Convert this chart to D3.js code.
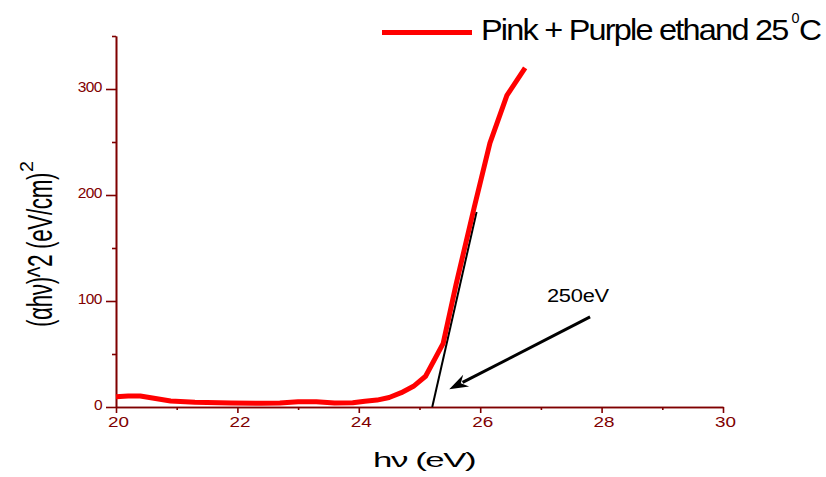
<!DOCTYPE html>
<html><head><meta charset="utf-8">
<script src="https://cdn.jsdelivr.net/npm/d3@7"></script>
<style>body{margin:0;background:#fff}svg{display:block}text{font-family:"Liberation Sans",Arial,sans-serif}</style>
</head><body>
<svg id="c" width="826" height="477"></svg>
<script>
const energy = [20.0,20.2,20.4,20.6,20.9,21.3,21.9,22.4,22.7,23.0,23.3,23.6,23.9,24.1,24.3,24.5,24.7,24.9,25.1,25.39,25.6,25.9,26.16,26.44,26.74];
const absorb = [9.7,10.3,10.3,8.5,5.7,4.5,3.8,3.5,3.8,5.0,5.0,3.8,4.0,5.5,6.5,9,13.5,19.5,29,60,115,188,249,294,320];
const xMajor = [20,22,24,26,28,30];
const xMinor = [21,23,25,27,29];
const yMajor = [0,100,200,300];
const yMinor = [50,150,250,350];
const tangent = [[25.21,0],[25.94,184]];
const arrowPts = [[27.81,85],[25.49,16.7]];
const seriesName = "Pink + Purple ethand 25";
const gapLabel = "250eV";

const svg = d3.select("#c");
const axisCol = "#7f0000";
const x = d3.scaleLinear().domain([20,30]).range([116,723]);
const y = d3.scaleLinear().domain([0,350]).range([407,36]);

// axes
const gx = svg.append("g").attr("transform","translate(0,407)")
  .call(d3.axisBottom(x).tickValues(xMajor).tickSize(6).tickSizeOuter(0).tickFormat(d=>String(d)));
svg.append("g").attr("transform","translate(0,407)")
  .call(d3.axisBottom(x).tickValues(xMinor).tickSize(3).tickSizeOuter(0).tickFormat(""));
const gy = svg.append("g").attr("transform","translate(116,0)")
  .call(d3.axisLeft(y).tickValues(yMajor).tickSize(10).tickSizeOuter(0).tickFormat(d=>String(d)));
svg.append("g").attr("transform","translate(116,0)")
  .call(d3.axisLeft(y).tickValues(yMinor).tickSize(4).tickSizeOuter(0).tickFormat(""));
svg.selectAll(".domain, .tick line").attr("stroke",axisCol).attr("stroke-width",1.6);
gx.selectAll(".tick text").attr("fill",axisCol).attr("font-size",15.5)
  .attr("dy",null).attr("y",20).attr("x",2)
  .attr("textLength",21).attr("lengthAdjust","spacingAndGlyphs");
gy.selectAll(".tick text").attr("fill",axisCol).attr("font-size",15.5)
  .attr("dy",null).attr("y",2).attr("x",-14).attr("letter-spacing",-0.5);

// tangent
svg.append("line").attr("x1",x(tangent[0][0])).attr("y1",y(tangent[0][1]))
  .attr("x2",x(tangent[1][0])).attr("y2",y(tangent[1][1]))
  .attr("stroke","#000").attr("stroke-width",2);

// curve
svg.append("path").datum(energy.map((e,i)=>[e,absorb[i]]))
  .attr("d",d3.line().x(d=>x(d[0])).y(d=>y(d[1])).curve(d3.curveLinear))
  .attr("fill","none").attr("stroke","#ff0000").attr("stroke-width",5).attr("stroke-linejoin","round");

// arrow
const ax0=x(arrowPts[0][0]), ay0=y(arrowPts[0][1]), ax1=x(arrowPts[1][0]), ay1=y(arrowPts[1][1]);
const ang=Math.atan2(ay1-ay0, ax1-ax0), L=19, W=6.5;
const bx=ax1-L*Math.cos(ang), by=ay1-L*Math.sin(ang);
svg.append("line").attr("x1",ax0).attr("y1",ay0).attr("x2",bx+4*Math.cos(ang)).attr("y2",by+4*Math.sin(ang))
  .attr("stroke","#000").attr("stroke-width",3);
svg.append("path").attr("d",`M${ax1},${ay1}L${bx+W*Math.sin(ang)},${by-W*Math.cos(ang)}L${bx+6*Math.cos(ang)},${by+6*Math.sin(ang)}L${bx-W*Math.sin(ang)},${by+W*Math.cos(ang)}Z`).attr("fill","#000");

svg.append("text").attr("transform","translate(547,302) scale(1.15,1)").attr("font-size",19)
  .attr("letter-spacing",-1).attr("textLength",53).attr("lengthAdjust","spacing").text(gapLabel);

// legend
svg.append("line").attr("x1",382).attr("x2",472).attr("y1",32.5).attr("y2",32.5)
  .attr("stroke","#ff0000").attr("stroke-width",5);
svg.append("text").attr("transform","translate(481,39.5) scale(1.12,1)").attr("font-size",29)
  .attr("letter-spacing",-1.2).attr("textLength",274).attr("lengthAdjust","spacing").text(seriesName);
svg.append("text").attr("x",791.5).attr("y",23).attr("font-size",15)
  .attr("textLength",8).attr("lengthAdjust","spacingAndGlyphs").text("0");
svg.append("text").attr("x",799).attr("y",39.5).attr("font-size",29)
  .attr("textLength",23).attr("lengthAdjust","spacingAndGlyphs").text("C");

// x title
svg.append("text").attr("transform","translate(373,467) scale(1.7,1)").attr("font-size",20.5)
  .attr("letter-spacing",-1).attr("textLength",60).attr("lengthAdjust","spacing").text("hν (eV)");

// y title
svg.append("text").attr("transform","translate(52,327) rotate(-90) scale(1,1.6)")
  .attr("font-size",22.5).attr("letter-spacing",-0.5).attr("textLength",154).attr("lengthAdjust","spacing")
  .text("(αhν)^2 (eV/cm)");
svg.append("text").attr("transform","translate(33,172) rotate(-90) scale(1,1.3)")
  .attr("font-size",14).attr("textLength",11).attr("lengthAdjust","spacingAndGlyphs").text("2");
</script>
</body></html>
